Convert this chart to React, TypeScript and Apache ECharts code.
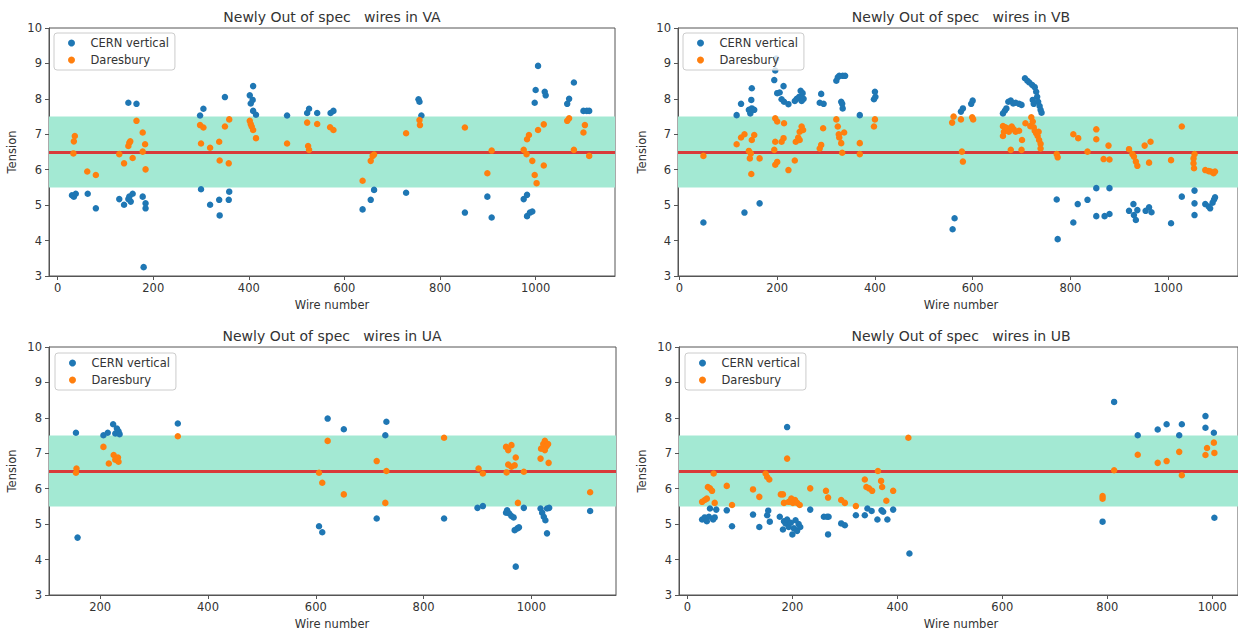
import React, { useEffect, useRef } from "react";
import * as echarts from "echarts";

type Pt = [number, number];

const LAYERS = ["VA", "VB", "UA", "UB"];
const SERIES_NAMES = ["CERN vertical", "Daresbury"];
const Y_TICKS = [3, 4, 5, 6, 7, 8, 9, 10];
const X_TICKS_VA = [0, 200, 400, 600, 800, 1000];
const X_TICKS_VB = [0, 200, 400, 600, 800, 1000];
const X_TICKS_UA = [200, 400, 600, 800, 1000];
const X_TICKS_UB = [0, 200, 400, 600, 800, 1000];
const BAND_LOW = 5.5;
const BAND_HIGH = 7.5;
const TARGET = 6.5;

const VA_CERN: Pt[] = [
  [30, 5.28], [34, 5.24], [38, 5.32], [63, 5.32], [80, 4.91], [129, 5.17], [139, 5.01], [148, 7.89],
  [148, 5.17], [150, 5.24], [153, 5.1], [157, 5.32], [165, 7.86], [178, 5.24], [180, 3.25], [184, 5.05],
  [184, 4.91], [298, 7.53], [300, 5.45], [305, 7.72], [319, 5.01], [338, 5.15], [339, 4.71], [350, 8.05],
  [358, 5.15], [359, 5.38], [402, 8.1], [404, 7.87], [408, 7.97], [409, 8.36], [409, 7.66], [415, 7.55],
  [480, 7.53], [522, 7.6], [526, 7.72], [543, 7.6], [571, 7.6], [577, 7.66], [638, 4.88], [655, 5.15],
  [662, 5.43], [729, 5.35], [755, 7.99], [757, 7.92], [761, 7.53], [852, 4.79], [899, 5.24], [908, 4.65],
  [975, 5.17], [982, 5.29], [982, 4.69], [988, 4.79], [993, 4.82], [998, 7.89], [1000, 8.25], [1005, 8.93],
  [1019, 8.2], [1021, 8.1], [1066, 7.86], [1070, 8.0], [1080, 8.46], [1100, 7.66], [1107, 7.66], [1112, 7.66],
];
const VA_DARES: Pt[] = [
  [33, 6.46], [34, 6.8], [36, 6.95], [62, 5.95], [80, 5.85], [129, 6.44], [139, 6.18], [148, 6.67],
  [150, 6.76], [152, 6.8], [157, 6.33], [165, 7.38], [178, 7.05], [178, 6.51], [183, 6.72], [184, 6.01],
  [298, 7.26], [300, 6.74], [305, 7.19], [319, 6.62], [338, 6.79], [339, 6.26], [350, 7.22], [358, 6.18],
  [359, 7.42], [402, 7.38], [404, 7.29], [406, 7.22], [409, 7.12], [415, 6.89], [480, 6.74], [522, 7.33],
  [524, 6.67], [526, 6.56], [543, 7.29], [570, 7.2], [577, 7.12], [638, 5.69], [655, 6.25], [659, 6.39],
  [662, 6.43], [729, 7.03], [757, 7.4], [758, 7.26], [852, 7.19], [899, 5.9], [908, 6.54], [975, 6.56],
  [981, 6.44], [982, 6.86], [986, 6.98], [993, 6.25], [998, 5.85], [1002, 5.62], [1005, 7.12], [1017, 7.28],
  [1017, 6.12], [1066, 7.38], [1070, 7.45], [1080, 6.56], [1100, 7.05], [1103, 7.26], [1112, 6.39],
];

const VB_CERN: Pt[] = [
  [49, 4.51], [117, 7.54], [126, 7.86], [133, 4.79], [142, 7.69], [145, 7.59], [147, 7.97], [148, 7.73],
  [148, 8.3], [153, 7.69], [164, 5.05], [194, 8.53], [196, 8.8], [198, 9.14], [200, 8.16], [205, 8.18],
  [209, 7.99], [213, 8.36], [214, 7.92], [223, 7.85], [236, 7.94], [240, 8.0], [245, 8.06], [248, 8.23],
  [250, 7.94], [252, 8.16], [254, 8.0], [287, 7.89], [290, 8.14], [295, 7.86], [321, 8.51], [324, 8.61],
  [327, 8.65], [334, 8.65], [339, 8.65], [331, 7.92], [333, 7.86], [334, 7.73], [369, 7.54], [398, 7.99],
  [400, 8.2], [401, 8.06], [559, 4.32], [563, 4.63], [576, 7.64], [580, 7.73], [597, 7.86], [600, 7.95],
  [662, 7.59], [666, 7.67], [669, 7.73], [673, 7.92], [678, 7.95], [683, 7.87], [688, 7.89], [695, 7.86],
  [700, 7.83], [707, 8.58], [712, 8.51], [716, 8.46], [722, 8.39], [727, 8.33], [730, 8.2], [732, 8.06],
  [734, 7.92], [737, 7.8], [739, 7.69], [741, 7.61], [723, 7.97], [725, 7.86], [772, 5.16], [774, 4.04],
  [806, 4.51], [815, 5.03], [835, 5.15], [853, 5.48], [853, 4.69], [870, 4.69], [880, 4.75], [880, 5.48],
  [920, 4.84], [929, 5.03], [930, 4.72], [934, 4.58], [937, 4.86], [954, 4.84], [961, 4.94], [966, 4.8],
  [1006, 4.49], [1028, 5.24], [1054, 5.41], [1054, 5.05], [1054, 4.72], [1076, 5.03], [1083, 4.96], [1086, 4.91],
  [1091, 5.07], [1094, 5.16], [1096, 5.22],
];
const VB_DARES: Pt[] = [
  [49, 6.39], [117, 6.72], [126, 6.91], [133, 7.0], [142, 6.53], [144, 6.32], [146, 6.46], [147, 5.88],
  [148, 6.84], [153, 6.98], [164, 6.32], [196, 7.45], [200, 7.36], [196, 6.79], [194, 6.56], [196, 6.14],
  [200, 6.22], [214, 7.31], [213, 6.89], [209, 6.79], [223, 5.99], [236, 6.26], [238, 6.79], [243, 6.91],
  [246, 7.07], [250, 7.22], [253, 7.12], [246, 6.84], [287, 6.6], [290, 6.7], [294, 7.17], [321, 7.42],
  [324, 7.22], [326, 7.0], [327, 6.91], [331, 6.75], [333, 6.48], [337, 7.05], [369, 6.75], [369, 6.44],
  [398, 7.22], [400, 7.42], [558, 7.33], [561, 7.5], [576, 7.42], [578, 6.51], [580, 6.23], [599, 7.48],
  [601, 7.42], [662, 7.23], [664, 7.07], [662, 6.95], [667, 7.2], [671, 7.17], [674, 7.07], [678, 6.56],
  [680, 7.22], [684, 7.14], [688, 7.07], [695, 7.1], [700, 6.56], [701, 6.84], [708, 7.31], [718, 7.23],
  [720, 7.48], [723, 7.36], [725, 7.2], [727, 7.1], [730, 7.03], [733, 6.95], [735, 7.07], [736, 6.84],
  [739, 6.73], [739, 6.6], [772, 6.44], [774, 6.35], [806, 7.0], [816, 6.89], [835, 6.51], [853, 7.14],
  [853, 6.86], [868, 6.3], [880, 6.29], [878, 6.68], [920, 6.58], [927, 6.44], [930, 6.37], [934, 6.23],
  [937, 6.11], [952, 6.68], [964, 6.79], [961, 6.2], [1006, 6.27], [1028, 7.22], [1054, 6.44], [1052, 6.32],
  [1052, 6.18], [1053, 6.04], [1076, 5.99], [1083, 5.96], [1087, 5.95], [1093, 5.9], [1096, 5.95],
];

const UA_CERN: Pt[] = [
  [155, 7.58], [158, 4.62], [206, 7.51], [214, 7.58], [224, 7.82], [228, 7.56], [231, 7.7], [234, 7.62],
  [236, 7.54], [344, 7.84], [606, 4.94], [612, 4.77], [622, 7.98], [652, 7.68], [713, 5.16], [729, 7.51],
  [731, 7.89], [838, 5.16], [900, 5.46], [910, 5.51], [953, 5.32], [955, 5.39], [959, 5.3], [963, 5.23],
  [967, 5.19], [969, 4.83], [974, 4.88], [977, 4.91], [971, 3.8], [986, 5.46], [1017, 5.44], [1020, 5.32],
  [1023, 5.21], [1026, 5.11], [1029, 4.74], [1029, 5.44], [1033, 5.46], [1109, 5.37],
];
const UA_DARES: Pt[] = [
  [155, 6.45], [156, 6.57], [206, 7.18], [216, 6.71], [225, 6.95], [228, 6.82], [233, 6.88], [234, 6.76],
  [344, 7.48], [606, 6.45], [612, 6.17], [622, 7.35], [652, 5.84], [713, 6.78], [731, 6.5], [729, 5.6],
  [838, 7.44], [902, 6.57], [910, 6.43], [953, 7.18], [957, 7.09], [963, 7.23], [957, 6.68], [963, 6.62],
  [969, 6.66], [971, 6.88], [954, 6.46], [975, 5.6], [986, 6.48], [1017, 6.85], [1018, 7.13], [1022, 7.26],
  [1025, 7.35], [1028, 7.2], [1031, 7.26], [1025, 7.09], [1032, 6.73], [1109, 5.9],
];

const UB_CERN: Pt[] = [
  [28, 5.13], [33, 5.19], [37, 5.08], [41, 5.21], [43, 5.44], [49, 5.13], [52, 5.19], [55, 5.41],
  [75, 5.39], [85, 4.94], [125, 5.27], [137, 4.92], [152, 5.25], [154, 5.38], [157, 5.07], [176, 5.21],
  [182, 4.85], [184, 5.08], [187, 5.02], [190, 5.13], [193, 4.92], [197, 5.04], [200, 4.71], [203, 4.88],
  [206, 5.11], [209, 4.81], [212, 5.0], [215, 4.92], [190, 7.74], [234, 5.41], [260, 5.21], [266, 5.21],
  [269, 5.21], [268, 4.71], [293, 5.02], [300, 4.97], [321, 5.25], [338, 5.25], [343, 5.44], [351, 5.37],
  [362, 5.13], [370, 5.39], [373, 5.35], [381, 5.13], [392, 5.41], [423, 4.17], [791, 5.07], [813, 8.45],
  [858, 7.51], [896, 7.67], [913, 7.82], [937, 7.51], [942, 7.82], [987, 8.05], [987, 7.72], [1003, 7.58],
  [1004, 5.18],
];
const UB_DARES: Pt[] = [
  [28, 5.63], [33, 5.68], [37, 5.72], [39, 6.05], [43, 6.01], [47, 5.94], [50, 6.43], [52, 5.6],
  [75, 6.08], [85, 5.54], [125, 5.98], [137, 5.77], [149, 6.43], [152, 6.33], [156, 6.26], [178, 5.84],
  [182, 5.84], [184, 5.6], [190, 6.85], [193, 5.63], [198, 5.72], [201, 5.6], [205, 5.68], [209, 5.6],
  [214, 5.54], [234, 6.01], [264, 5.94], [268, 5.75], [293, 5.68], [300, 5.6], [321, 5.51], [338, 6.26],
  [341, 6.05], [346, 6.01], [352, 5.94], [363, 6.5], [369, 6.22], [371, 6.05], [379, 5.66], [392, 5.94],
  [421, 7.44], [791, 5.79], [791, 5.72], [813, 6.52], [858, 6.96], [896, 6.73], [913, 6.78], [937, 7.04],
  [942, 6.38], [987, 6.95], [990, 7.15], [1003, 7.3], [1004, 7.01],
];

const FONT = "DejaVu Sans";
const BLUE = "#1f77b4";
const ORANGE = "#ff7f0e";
const SPINE = "#555555";
const TEXT = "#333333";

const PANELS = [
  { layer: LAYERS[0], left: 49, top: 28, width: 566, height: 248, xMin: -18, xMax: 1166, ticks: X_TICKS_VA, cern: VA_CERN, dares: VA_DARES, legend: [54, 33], cx: 332, yLabelX: 12 },
  { layer: LAYERS[1], left: 678, top: 28, width: 566, height: 248, xMin: -3, xMax: 1143, ticks: X_TICKS_VB, cern: VB_CERN, dares: VB_DARES, legend: [683, 33], cx: 961, yLabelX: 642 },
  { layer: LAYERS[2], left: 49, top: 347, width: 567, height: 248, xMin: 105, xMax: 1157, ticks: X_TICKS_UA, cern: UA_CERN, dares: UA_DARES, legend: [55, 353], cx: 332, yLabelX: 12 },
  { layer: LAYERS[3], left: 679, top: 347, width: 564, height: 248, xMin: -16, xMax: 1049, ticks: X_TICKS_UB, cern: UB_CERN, dares: UB_DARES, legend: [685, 353], cx: 961, yLabelX: 642 },
];

function buildOption() {
  const grid = PANELS.map((p) => ({
    left: p.left, top: p.top, width: p.width, height: p.height,
    show: true, borderColor: SPINE, borderWidth: 1, backgroundColor: "transparent",
  }));
  const xAxis = PANELS.map((p, i) => ({
    type: "value", gridIndex: i, min: p.xMin, max: p.xMax,
    axisLine: { show: true, onZero: false, lineStyle: { color: SPINE, width: 1 } },
    axisTick: { show: true, length: 4, inside: false, customValues: p.ticks, lineStyle: { color: SPINE } },
    axisLabel: {
      customValues: p.ticks, color: TEXT, fontSize: 11.5, fontFamily: FONT, margin: 6,
      formatter: (v: number) => String(Math.round(v)),
    },
    splitLine: { show: false },
  }));
  const yAxis = PANELS.map((p, i) => ({
    type: "value", gridIndex: i, min: Y_TICKS[0], max: Y_TICKS[Y_TICKS.length - 1], interval: 1,
    axisLine: { show: true, onZero: false, lineStyle: { color: SPINE, width: 1 } },
    axisTick: { show: true, length: 4, inside: false, lineStyle: { color: SPINE } },
    axisLabel: { color: TEXT, fontSize: 11.5, fontFamily: FONT, margin: 7 },
    splitLine: { show: false },
  }));
  const series: any[] = [];
  PANELS.forEach((p, i) => {
    series.push({
      type: "scatter", name: SERIES_NAMES[0], xAxisIndex: i, yAxisIndex: i, data: p.cern,
      symbol: "circle", symbolSize: 6.5, itemStyle: { color: BLUE, opacity: 1 }, z: 3,
      markArea: {
        silent: true, z: 0.5,
        itemStyle: { color: "rgb(163,233,211)", opacity: 1 },
        data: [[{ yAxis: BAND_LOW }, { yAxis: BAND_HIGH }]],
      },
      markLine: {
        silent: true, z: 1, symbol: ["none", "none"], label: { show: false },
        lineStyle: { color: "#d83a3a", width: 3, type: "solid", opacity: 1 },
        emphasis: { disabled: true },
        data: [{ yAxis: TARGET }],
      },
    });
    series.push({
      type: "scatter", name: SERIES_NAMES[1], xAxisIndex: i, yAxisIndex: i, data: p.dares,
      symbol: "circle", symbolSize: 6.5, itemStyle: { color: ORANGE, opacity: 1 }, z: 3,
    });
  });
  const legend = PANELS.map((p) => ({
    left: p.legend[0], top: p.legend[1], orient: "vertical", data: SERIES_NAMES,
    icon: "circle", itemWidth: 28, itemHeight: 7, itemGap: 5, padding: [4, 6, 4, 14],
    borderColor: "#cccccc", borderWidth: 1, borderRadius: 3, backgroundColor: "rgba(255,255,255,0.8)",
    textStyle: { fontSize: 11.5, color: TEXT, fontFamily: FONT }, selectedMode: false,
  }));
  const graphic: any[] = [];
  PANELS.forEach((p) => {
    const midY = p.top + p.height / 2;
    graphic.push({
      type: "text", x: p.cx, y: p.top - 11,
      style: { text: "Newly Out of spec   wires in " + p.layer, font: `14px '${FONT}'`, fill: TEXT,
        textAlign: "center", textVerticalAlign: "middle", align: "center", verticalAlign: "middle" },
    });
    graphic.push({
      type: "text", x: p.cx, y: p.top + p.height + 29,
      style: { text: "Wire number", font: `11.5px '${FONT}'`, fill: TEXT,
        textAlign: "center", textVerticalAlign: "middle", align: "center", verticalAlign: "middle" },
    });
    graphic.push({
      type: "text", x: p.yLabelX, y: midY, rotation: Math.PI / 2,
      style: { text: "Tension", font: `11.5px '${FONT}'`, fill: TEXT,
        textAlign: "center", textVerticalAlign: "middle", align: "center", verticalAlign: "middle" },
    });
  });
  return {
    animation: false,
    backgroundColor: "#ffffff",
    grid, xAxis, yAxis, series, legend, graphic,
    tooltip: { show: false },
  };
}

export default function App() {
  const ref = useRef<HTMLDivElement>(null);
  useEffect(() => {
    if (!ref.current) return;
    const chart = echarts.init(ref.current, undefined, { renderer: "svg" });
    chart.setOption(buildOption() as any);
    return () => chart.dispose();
  }, []);
  return (
    <div
      ref={ref}
      style={{ position: "absolute", left: 0, top: 0, width: 1238, height: 633, background: "#fff" }}
    />
  );
}
